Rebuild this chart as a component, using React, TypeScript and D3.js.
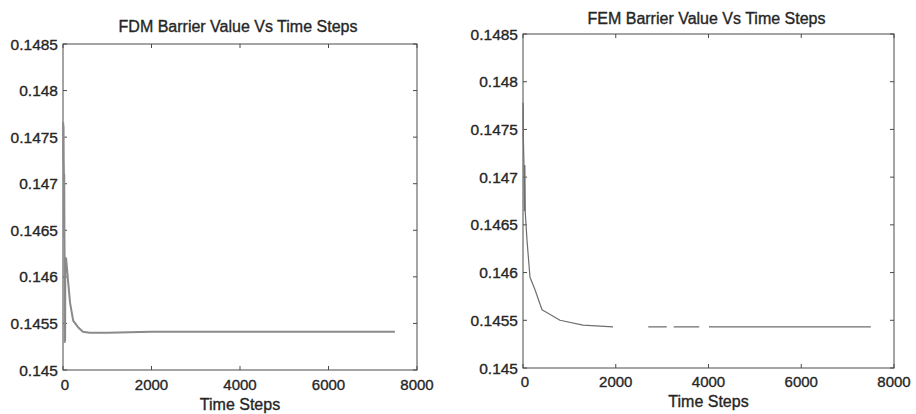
import React from "react";
import * as d3 from "d3";

// Barrier option value against number of time steps, two numerical schemes.
const fdmSteps = [
  4, 8, 12, 16, 20, 24, 28, 32, 36, 40, 44, 48, 52, 70, 110, 160, 230, 340, 450, 600, 1000,
  1500, 2000, 3000, 4000, 5000, 6000, 7000, 7500,
];
const fdmValues = [
  0.14766, 0.14723, 0.14762, 0.14725, 0.14712, 0.14642, 0.1471, 0.14645, 0.1462, 0.1453,
  0.14618, 0.14532, 0.1462, 0.1462, 0.14598, 0.14572, 0.14553, 0.14546, 0.14541, 0.1454,
  0.1454, 0.145405, 0.14541, 0.14541, 0.14541, 0.14541, 0.14541, 0.14541, 0.14541,
];

// null entries are missing results (no value recorded for those runs)
const femSteps = [
  2, 4, 6, 8, 20, 30, 40, 50, 86, 151, 259, 410, 798, 1294, 1941, 2005, 2700, 3100, 3150,
  3250, 3800, 3900, 4010, 5000, 6000, 7000, 7500,
];
const femValues: (number | null)[] = [
  0.14778, 0.14742, 0.14775, 0.14740, 0.14715, 0.14665, 0.14712, 0.14662, 0.14634, 0.14595,
  0.14582, 0.14561, 0.1455, 0.14545, 0.14543, null, 0.14543, 0.14543, null, 0.14543,
  0.14543, null, 0.14543, 0.14543, 0.14543, 0.14543, 0.14543,
];

const xTicks = [0, 2000, 4000, 6000, 8000];
const yTicks = [0.145, 0.1455, 0.146, 0.1465, 0.147, 0.1475, 0.148, 0.1485];
const xDomain: [number, number] = [0, 8000];
const yDomain: [number, number] = [0.145, 0.1485];

const FONT = "'Liberation Sans', Arial, Helvetica, sans-serif";
const INK = "#262626";
const AXIS = "#4a4a4a";

const textStyle = {
  fontFamily: FONT,
  fill: INK,
  stroke: INK,
  strokeWidth: 0.35,
};

type PanelProps = {
  title: string;
  steps: number[];
  values: (number | null)[];
  left: number;
  right: number;
  top: number;
  bottom: number;
  titleBaseline: number;
  xTickBaseline: number;
  xLabelBaseline: number;
  lineColor: string;
  lineWidth: number;
};

function Panel(p: PanelProps) {
  const x = d3.scaleLinear().domain(xDomain).range([p.left, p.right]);
  const y = d3.scaleLinear().domain(yDomain).range([p.bottom, p.top]);
  const pts = p.steps.map((s, i) => [s, p.values[i]] as [number, number | null]);
  const line = d3
    .line<[number, number | null]>()
    .defined((d) => d[1] !== null)
    .x((d) => x(d[0]))
    .y((d) => y(d[1] as number));
  const tl = 4;
  const cx = (p.left + p.right) / 2;
  return (
    <g>
      <text x={cx - 2} y={p.titleBaseline} textAnchor="middle" fontSize={16} style={textStyle}>
        {p.title}
      </text>
      <rect
        x={p.left}
        y={p.top}
        width={p.right - p.left}
        height={p.bottom - p.top}
        fill="none"
        stroke={AXIS}
        strokeWidth={1}
      />
      {xTicks.map((t) => (
        <g key={"x" + t}>
          <line x1={x(t)} x2={x(t)} y1={p.bottom} y2={p.bottom - tl} stroke={AXIS} />
          <line x1={x(t)} x2={x(t)} y1={p.top} y2={p.top + tl} stroke={AXIS} />
          <text
            x={x(t) + (t === 0 ? 2 : 0)}
            y={p.xTickBaseline}
            textAnchor="middle"
            fontSize={15}
            style={textStyle}
          >
            {t}
          </text>
        </g>
      ))}
      {yTicks.map((t) => (
        <g key={"y" + t}>
          <line x1={p.left} x2={p.left + tl} y1={y(t)} y2={y(t)} stroke={AXIS} />
          <line x1={p.right} x2={p.right - tl} y1={y(t)} y2={y(t)} stroke={AXIS} />
          <text
            x={p.left - 5}
            y={y(t)}
            dy="0.36em"
            textAnchor="end"
            fontSize={15.5}
            style={textStyle}
          >
            {String(t)}
          </text>
        </g>
      ))}
      <path
        d={line(pts) || ""}
        fill="none"
        stroke={p.lineColor}
        strokeWidth={p.lineWidth}
        strokeLinejoin="round"
      />
      <text x={cx} y={p.xLabelBaseline} textAnchor="middle" fontSize={16} style={textStyle}>
        Time Steps
      </text>
    </g>
  );
}

export default function App() {
  return (
    <svg
      width={916}
      height={414}
      viewBox="0 0 916 414"
      style={{ position: "absolute", left: 0, top: 0, background: "#fff" }}
    >
      <rect width={916} height={414} fill="#fff" />
      <Panel
        title="FDM Barrier Value Vs Time Steps"
        steps={fdmSteps}
        values={fdmValues}
        left={63}
        right={417}
        top={44}
        bottom={370}
        titleBaseline={32}
        xTickBaseline={390}
        xLabelBaseline={410}
        lineColor="#8a8a8a"
        lineWidth={2}
      />
      <Panel
        title="FEM Barrier Value Vs Time Steps"
        steps={femSteps}
        values={femValues}
        left={523}
        right={894}
        top={34}
        bottom={368}
        titleBaseline={24}
        xTickBaseline={387}
        xLabelBaseline={407}
        lineColor="#6e6e6e"
        lineWidth={1.2}
      />
    </svg>
  );
}
